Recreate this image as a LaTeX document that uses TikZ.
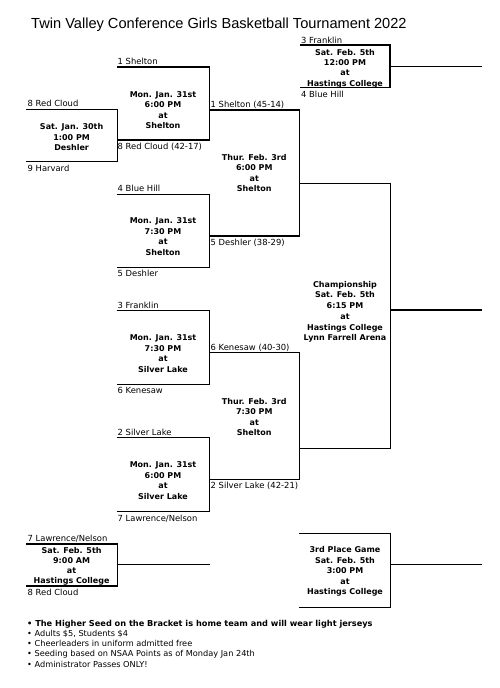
\documentclass[tikz,border=0pt]{standalone}
\usepackage{fontspec}
\setmainfont{DejaVu Sans}
\newfontfamily\titlefont{Liberation Sans}
\begin{document}
\begin{tikzpicture}[x=1pt, y=-1pt,
	team/.style={anchor=base west, inner sep=0, font=\fontsize{8.4}{10}\selectfont},
	game/.style={align=center, inner sep=0, font=\bfseries\fontsize{8}{10.5}\selectfont},
	bracket/.style={line width=1.4pt},
	note/.style={anchor=base west, inner sep=0, font=\fontsize{8.2}{10}\selectfont}]
	\useasboundingbox (0,0) rectangle (500,688);
	\node [anchor=base west, inner sep=0, font=\titlefont\fontsize{14.6}{16}\selectfont] (title) at (31,28) {Twin Valley Conference Girls Basketball Tournament 2022};
	% first round
	\draw [bracket] (26,109.3) -- (117.3,109.3) -- (117.3,161.7) -- (26,161.7);
	\node [game] (gP) at (71.6,137.2) {Sat. Jan. 30th\\1:00 PM\\Deshler};
	\node [team] (t8a) at (27.5,106.8) {8 Red Cloud};
	\node [team] (t9a) at (27.5,171.2) {9 Harvard};
	% quarterfinals
	\draw [bracket] (116.5,67) -- (209.3,67) -- (209.3,140) -- (116.5,140);
	\node [game] (gA) at (163,110) {Mon. Jan. 31st\\6:00 PM\\at\\Shelton};
	\node [team] (t1a) at (117.5,64.5) {1 Shelton};
	\node [team] (t8b) at (117.5,149.5) {8 Red Cloud (42-17)};
	\draw [bracket] (116.5,194.3) -- (209.3,194.3) -- (209.3,267.3) -- (116.5,267.3);
	\node [game] (gB) at (163,236.8) {Mon. Jan. 31st\\7:30 PM\\at\\Shelton};
	\node [team] (t4a) at (117.5,191.8) {4 Blue Hill};
	\node [team] (t5a) at (117.5,276.8) {5 Deshler};
	\draw [bracket] (116.5,310.7) -- (209.3,310.7) -- (209.3,384.3) -- (116.5,384.3);
	\node [game] (gC) at (163,353.5) {Mon. Jan. 31st\\7:30 PM\\at\\Silver Lake};
	\node [team] (t3a) at (117.5,308.2) {3 Franklin};
	\node [team] (t6a) at (117.5,393.8) {6 Kenesaw};
	\draw [bracket] (116.5,437.7) -- (209.3,437.7) -- (209.3,511.7) -- (116.5,511.7);
	\node [game] (gD) at (163,480.8) {Mon. Jan. 31st\\6:00 PM\\at\\Silver Lake};
	\node [team] (t2a) at (117.5,435.2) {2 Silver Lake};
	\node [team] (t7a) at (117.5,521.2) {7 Lawrence/Nelson};
	% semifinals
	\draw [bracket] (209.3,110) -- (299.3,110) -- (299.3,236) -- (209.3,236);
	\node [game] (gT1) at (254.3,172.8) {Thur. Feb. 3rd\\6:00 PM\\at\\Shelton};
	\node [team] (t1b) at (210.5,107.5) {1 Shelton (45-14)};
	\node [team] (t5b) at (210.5,245.5) {5 Deshler (38-29)};
	\draw [bracket] (209.3,352.7) -- (299.3,352.7) -- (299.3,479.3) -- (209.3,479.3);
	\node [game] (gT2) at (254.3,417.2) {Thur. Feb. 3rd\\7:30 PM\\at\\Shelton};
	\node [team] (t6b) at (210.5,350.2) {6 Kenesaw (40-30)};
	\node [team] (t2b) at (210.5,488.8) {2 Silver Lake (42-21)};
	% championship
	\draw [bracket] (299.3,183.3) -- (390.7,183.3) -- (390.7,448.3) -- (299.3,448.3);
	\draw [bracket] (390.7,310) -- (481.7,310);
	\node [game, font=\bfseries\fontsize{8}{10.7}\selectfont] (gCh) at (345,311.8) {Championship\\Sat. Feb. 5th\\6:15 PM\\at\\Hastings College\\Lynn Farrell Arena};
	% other games
	\draw [bracket] (300,45) -- (390,45) -- (390,87.5) -- (300,87.5);
	\draw [bracket] (390,66.7) -- (481.7,66.7);
	\node [game, font=\bfseries\fontsize{8}{10.3}\selectfont] (gF) at (345,68.6) {Sat. Feb. 5th\\12:00 PM\\at\\Hastings College};
	\node [team] (t3b) at (301,43) {3 Franklin};
	\node [team] (t4b) at (301,97) {4 Blue Hill};
	\draw [bracket] (26,544) -- (117.3,544) -- (117.3,586) -- (26,586);
	\draw [bracket] (117.3,564.3) -- (210,564.3);
	\node [game, font=\bfseries\fontsize{8}{10.1}\selectfont] (gQ) at (71.6,566.6) {Sat. Feb. 5th\\9:00 AM\\at\\Hastings College};
	\node [team] (t7b) at (27.5,541.5) {7 Lawrence/Nelson};
	\node [team] (t8c) at (27.5,595.5) {8 Red Cloud};
	\draw [bracket] (299.3,533.3) -- (390.7,533.3) -- (390.7,607.3) -- (299.3,607.3);
	\draw [bracket] (390.7,564.3) -- (481.7,564.3);
	\node [game] (g3rd) at (345,571.6) {3rd Place Game\\Sat. Feb. 5th\\3:00 PM\\at\\Hastings College};
	% notes
	\node [note, font=\bfseries\fontsize{8.2}{10}\selectfont] (n1) at (27,626.3) {• The Higher Seed on the Bracket is home team and will wear light jerseys};
	\node [note] (n2) at (27,636.3) {• Adults \$5, Students \$4};
	\node [note] (n3) at (27,646.3) {• Cheerleaders in uniform admitted free};
	\node [note] (n4) at (27,656.3) {• Seeding based on NSAA Points as of Monday Jan 24th};
	\node [note] (n5) at (27,667) {• Administrator Passes ONLY!};
\end{tikzpicture}
\end{document}
